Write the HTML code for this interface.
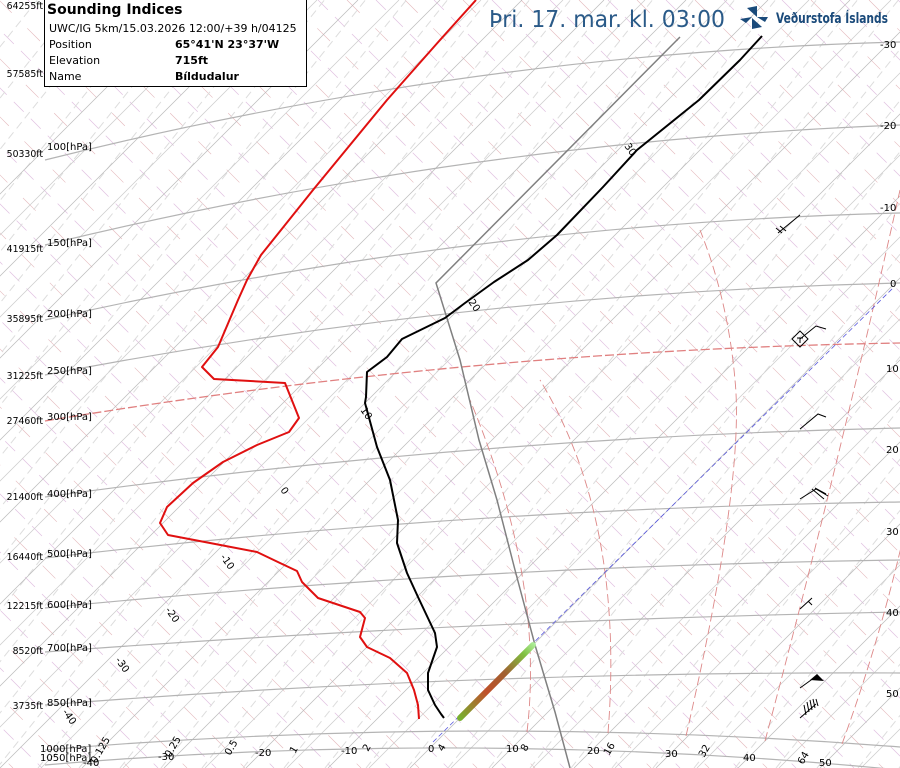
<!DOCTYPE html>
<html><head><meta charset="utf-8"><style>
html,body{margin:0;padding:0;background:#fff;}
#w{position:relative;width:900px;height:768px;overflow:hidden;font-family:"DejaVu Sans","Liberation Sans",sans-serif;}
svg{position:absolute;left:0;top:0;}
.l{position:absolute;font-size:10px;color:#000;white-space:nowrap;line-height:1;}
.ft{position:absolute;font-size:9.3px;right:857px;white-space:nowrap;line-height:1;}
#box{position:absolute;left:44px;top:-1px;width:261px;height:86px;border:1px solid #000;background:#fff;}
#box div{position:absolute;font-size:11px;white-space:nowrap;}
</style></head><body><div id="w">
<svg id="g" width="900" height="768" viewBox="0 0 900 768"></svg>
<svg width="900" height="768" viewBox="0 0 900 768">
<defs><linearGradient id="gr" x1="460" y1="718" x2="535" y2="643" gradientUnits="userSpaceOnUse">
<stop offset="0" stop-color="#78b030"/><stop offset="0.35" stop-color="#c0502a"/><stop offset="0.6" stop-color="#a06030"/><stop offset="0.85" stop-color="#80c040"/><stop offset="1" stop-color="#b0f0a0"/></linearGradient></defs>
<line x1="433" y1="742" x2="893" y2="288" stroke="#5555dd" stroke-width="0.8" stroke-dasharray="5,3"/>
<polyline fill="none" stroke="#808080" stroke-width="1.5" points="680,37 436,283 460,360 479,440 497,500 515,570 535,645 555,712 570,768"/>
<line x1="460" y1="718" x2="533" y2="645" stroke="url(#gr)" stroke-width="6" stroke-linecap="round"/>
<polyline fill="none" stroke="#e01010" stroke-width="2" stroke-linejoin="round" points="476,0 440,40 387,100 313,190 261,255 247,280 238,300 218,347 202,367 214,379 285,383 299,418 289,432 257,445 223,462 193,483 167,507 160,523 168,535 210,543 257,552 280,563 297,571 302,582 318,598 360,612 365,618 360,637 367,647 390,658 407,673 414,690 418,705 419,719"/>
<polyline fill="none" stroke="#000" stroke-width="2" stroke-linejoin="round" points="762,36 740,60 699,100 637,150 603,187 557,235 528,260 494,282 465,303 445,318 402,339 387,357 367,372 366,397 365,403 377,447 390,480 398,520 397,543 407,573 418,597 435,633 437,647 428,673 428,690 435,705 441,714 444,718"/>
<g stroke="#000" stroke-width="1" fill="none">
<path d="M800,215 L778,233 M776,228 L782,233 M780,226 L786,231"/>
<path d="M800,331 L808,339 L800,347 L792,339 Z M800,339 L816,326 L826,329 M797,338 L803,338 M800,338 L800,343"/>
<path d="M800,429 L818,414 L826,417"/>
<path d="M800,499 L816,489 L828,496 M812,489 L824,499 M815,488 L826,494"/>
<path d="M800,609 L812,598 M808,601 L812,605"/>
<path d="M800,688 L818,675"/>
<path d="M800,718 L816,704 M804,705 L806,715 M807,702 L809,712 M810,700 L812,710 M813,699 L815,708 M816,699 L818,706"/>
</g>
<path d="M810,680 L817,674 L824,681 Z" fill="#000"/>
<g fill="#1a4a7a"><path d="M757,6 L757,17 L747,8 Z"/><path d="M757,17 L768,17 L765,22 Z"/><path d="M752,18 L752,29 L762,27 Z"/><path d="M740,19 L752,17 L746,23 Z"/></g>
<text x="776" y="23" font-family="DejaVu Sans Condensed,DejaVu Sans,Liberation Sans,sans-serif" font-weight="bold" font-size="14" fill="#1a4a7a" textLength="112" lengthAdjust="spacingAndGlyphs">Veðurstofa Íslands</text>
<text x="489" y="27" font-family="DejaVu Sans,Liberation Sans,sans-serif" font-size="23" fill="#2a5a88" textLength="236" lengthAdjust="spacingAndGlyphs">Þri. 17. mar. kl. 03:00</text>
<g font-family="DejaVu Sans,Liberation Sans,sans-serif" font-size="10" fill="#000">
<text x="880" y="48">-30</text><text x="880" y="129">-20</text><text x="880" y="211">-10</text><text x="890" y="287">0</text>
<text x="886" y="372">10</text><text x="886" y="453">20</text><text x="886" y="535">30</text><text x="886" y="616">40</text><text x="886" y="697">50</text>
<text x="83" y="766">-40</text><text x="158" y="760">-30</text><text x="255" y="756">-20</text><text x="341" y="754">-10</text><text x="428" y="752">0</text>
<text x="506" y="752">10</text><text x="587" y="754">20</text><text x="665" y="757">30</text><text x="743" y="761">40</text><text x="819" y="766">50</text>
<text transform="translate(96,764) rotate(-60)">0.125</text>
<text transform="translate(170,758) rotate(-60)">0.25</text>
<text transform="translate(230,756) rotate(-60)">0.5</text>
<text transform="translate(295,754) rotate(-60)">1</text>
<text transform="translate(368,752) rotate(-60)">2</text>
<text transform="translate(443,752) rotate(-60)">4</text>
<text transform="translate(526,752) rotate(-60)">8</text>
<text transform="translate(609,756) rotate(-60)">16</text>
<text transform="translate(704,758) rotate(-60)">32</text>
<text transform="translate(803,765) rotate(-60)">64</text>
<text transform="translate(62,712) rotate(55)">-40</text>
<text transform="translate(115,660) rotate(55)">-30</text>
<text transform="translate(165,610) rotate(55)">-20</text>
<text transform="translate(220,557) rotate(55)">-10</text>
<text transform="translate(280,490) rotate(55)">0</text>
<text transform="translate(360,410) rotate(55)">10</text>
<text transform="translate(468,302) rotate(55)">20</text>
<text transform="translate(624,146) rotate(55)">30</text>
</g>
</svg>
<div class="ft" style="top:2px">64255ft</div>
<div class="ft" style="top:70px">57585ft</div>
<div class="ft" style="top:150px">50330ft</div>
<div class="ft" style="top:245px">41915ft</div>
<div class="ft" style="top:315px">35895ft</div>
<div class="ft" style="top:372px">31225ft</div>
<div class="ft" style="top:417px">27460ft</div>
<div class="ft" style="top:493px">21400ft</div>
<div class="ft" style="top:553px">16440ft</div>
<div class="ft" style="top:602px">12215ft</div>
<div class="ft" style="top:647px">8520ft</div>
<div class="ft" style="top:702px">3735ft</div>
<div class="l" style="left:47px;top:143px">100[hPa]</div>
<div class="l" style="left:47px;top:239px">150[hPa]</div>
<div class="l" style="left:47px;top:310px">200[hPa]</div>
<div class="l" style="left:47px;top:367px">250[hPa]</div>
<div class="l" style="left:47px;top:413px">300[hPa]</div>
<div class="l" style="left:47px;top:490px">400[hPa]</div>
<div class="l" style="left:47px;top:550px">500[hPa]</div>
<div class="l" style="left:47px;top:601px">600[hPa]</div>
<div class="l" style="left:47px;top:644px">700[hPa]</div>
<div class="l" style="left:47px;top:699px">850[hPa]</div>
<div class="l" style="left:40px;top:745px">1000[hPa]</div>
<div class="l" style="left:40px;top:754px">1050[hPa]</div>
<div id="box">
<div style="left:2px;top:2px;font-size:14px;font-weight:bold">Sounding Indices</div>
<div style="left:4px;top:22px">UWC/IG 5km/15.03.2026 12:00/+39 h/04125</div>
<div style="left:4px;top:38px">Position</div><div style="left:130px;top:38px;font-weight:bold">65°41'N 23°37'W</div>
<div style="left:4px;top:54px">Elevation</div><div style="left:130px;top:54px;font-weight:bold">715ft</div>
<div style="left:4px;top:70px">Name</div><div style="left:130px;top:70px;font-weight:bold">Bíldudalur</div>
</div>
</div>
<script>
(function(){
var g=document.getElementById('g'),NS='http://www.w3.org/2000/svg';
function el(t,a){var e=document.createElementNS(NS,t);for(var k in a)e.setAttribute(k,a[k]);g.appendChild(e);return e;}
for(var c=-900;c<900;c+=58){
 el('line',{x1:c,y1:0,x2:c+768,y2:768,stroke:'#e0c0e0','stroke-width':0.7,'stroke-dasharray':'14,10'});
 el('line',{x1:c+29,y1:0,x2:c+797,y2:768,stroke:'#e4b8bc','stroke-width':0.6,'stroke-dasharray':'18,22'});
}
for(var b=-700;b<1000;b+=41){
 el('line',{x1:b,y1:768,x2:b+0.8*768,y2:0,stroke:'#dddddd','stroke-width':1,'stroke-dasharray':'8,5'});
}
for(var T=-120;T<=60;T+=5){
 var x0=430+8.2*T;
 el('line',{x1:x0+(748-768),y1:768,x2:x0+748,y2:0,stroke:(T%10==0?'#bbbbbb':'#cccccc'),'stroke-width':0.7});
}
var P=[[160,77,42],[245,163,125],[320,245,213],[375,311,283],[497,450,428],[558,519,502],[608,575,560],[652,626,612],[705,680,673],[750,731,747],[765,748,770]];
P.forEach(function(p){var cy=2*p[1]-(p[0]+p[2])/2;
 el('path',{d:'M45,'+p[0]+' Q472.5,'+cy+' 900,'+p[2],fill:'none',stroke:'#b4b4b4','stroke-width':1.2});});
var cy=2*366-(421+343)/2;
el('path',{d:'M45,421 Q472.5,'+cy+' 900,343',fill:'none',stroke:'#e08080','stroke-width':1.3,'stroke-dasharray':'9,3'});
['M527,732 Q545,580 470,400','M608,733 Q625,520 540,380','M686,736 Q745,480 735,380 Q728,300 700,230',
 'M765,741 Q840,460 900,190','M842,744 Q880,640 905,530'].forEach(function(d){
 el('path',{d:d,fill:'none',stroke:'#dd8888','stroke-width':0.9,'stroke-dasharray':'9,4'});});
})();
</script>
</body></html>
